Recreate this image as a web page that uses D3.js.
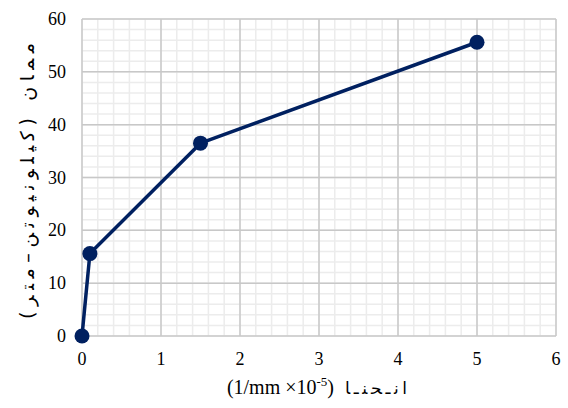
<!DOCTYPE html>
<html><head><meta charset="utf-8">
<script src="https://cdn.jsdelivr.net/npm/d3@7"></script>
<style>body{margin:0;background:#fff}</style>
</head><body>
<svg id="c" width="568" height="408"></svg>
<script>
const xValues = [0, 0.1, 1.5, 5];
const yValues = [0, 15.6, 36.5, 55.6];
const xTicks = [0, 1, 2, 3, 4, 5, 6];
const yTicks = [0, 10, 20, 30, 40, 50, 60];
const yTitle = "ممان (کیلونیوتن–متر)";
const xTitleArabic = "انـحنـا";

const svg = d3.select("#c");
const x = d3.scaleLinear().domain([0, 6]).range([82, 556]);
const y = d3.scaleLinear().domain([0, 60]).range([336, 19]);

const minorX = d3.range(0, 6.0001, 0.2).map(v => +v.toFixed(1));
const minorY = d3.range(0, 60.001, 2);
const g = svg.append("g");
g.selectAll(".mx").data(minorX).join("line")
  .attr("x1", d => x(d)).attr("x2", d => x(d)).attr("y1", y(0)).attr("y2", y(60))
  .attr("stroke", "#ececec").attr("stroke-width", 1.5);
g.selectAll(".my").data(minorY).join("line")
  .attr("y1", d => y(d)).attr("y2", d => y(d)).attr("x1", x(0)).attr("x2", x(6))
  .attr("stroke", "#ececec").attr("stroke-width", 1.5);
g.selectAll(".Mx").data(xTicks).join("line")
  .attr("x1", d => x(d)).attr("x2", d => x(d)).attr("y1", y(0)).attr("y2", y(60))
  .attr("stroke", "#c8c8c8").attr("stroke-width", 1.5);
g.selectAll(".My").data(yTicks).join("line")
  .attr("y1", d => y(d)).attr("y2", d => y(d)).attr("x1", x(0)).attr("x2", x(6))
  .attr("stroke", "#c8c8c8").attr("stroke-width", 1.5);

const font = "Liberation Serif, Times New Roman, serif";
svg.append("g").selectAll("text").data(yTicks).join("text")
  .attr("x", 66).attr("y", d => y(d) + 6)
  .attr("text-anchor", "end").style("font-family", font).style("font-size", "18px")
  .attr("fill", "#000").text(d => d);
svg.append("g").selectAll("text").data(xTicks).join("text")
  .attr("x", d => x(d)).attr("y", 365)
  .attr("text-anchor", "middle").style("font-family", font).style("font-size", "18px")
  .attr("fill", "#000").text(d => d);

const pts = xValues.map((v, i) => [v, yValues[i]]);
svg.append("path").datum(pts)
  .attr("d", d3.line().x(d => x(d[0])).y(d => y(d[1])))
  .attr("fill", "none").attr("stroke", "#002060").attr("stroke-width", 3.5)
  .attr("stroke-linejoin", "round");
svg.append("g").selectAll("circle").data(pts).join("circle")
  .attr("cx", d => x(d[0])).attr("cy", d => y(d[1])).attr("r", 7.5)
  .attr("fill", "#002060");

// y title
svg.append("text")
  .attr("transform", `translate(34,${181}) rotate(-90)`)
  .attr("text-anchor", "middle").attr("direction", "rtl")
  .attr("textLength", 276).attr("lengthAdjust", "spacing")
  .style("font-family", "DejaVu Sans, sans-serif").style("font-size", "19px")
  .attr("fill", "#000").text(yTitle);

// x title
const xt = svg.append("text").attr("x", 334).attr("y", 394)
  .attr("text-anchor", "end").style("font-family", font).style("font-size", "20px")
  .attr("fill", "#000").attr("direction", "ltr");
xt.append("tspan").text("(1/mm ×10");
xt.append("tspan").attr("dy", -8).style("font-size", "13px").text("-5");
xt.append("tspan").attr("dy", 8).text(")");
svg.append("text").attr("x", 345).attr("y", 394)
  .attr("textLength", 62).attr("lengthAdjust", "spacing")
  .style("font-family", "DejaVu Sans, sans-serif").style("font-size", "17px")
  .attr("fill", "#000").text(xTitleArabic);
</script>
</body></html>
